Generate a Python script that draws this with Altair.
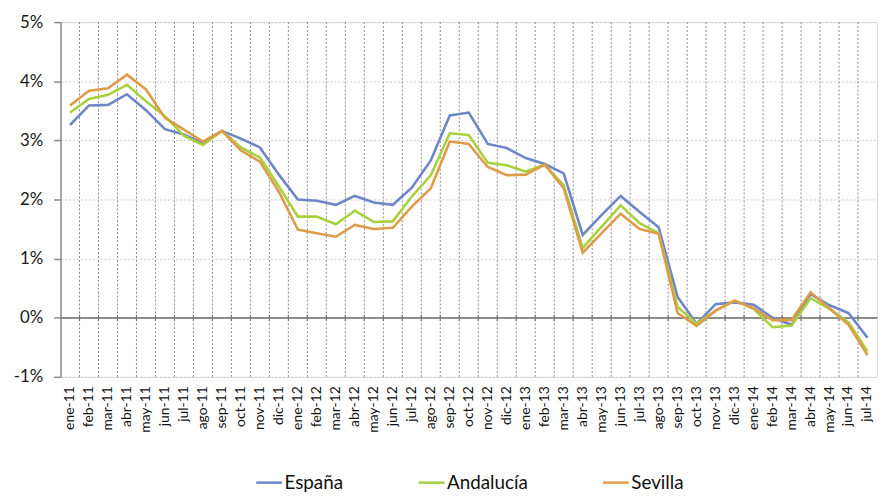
import altair as alt
import pandas as pd

meses = ["ene-11", "feb-11", "mar-11", "abr-11", "may-11", "jun-11", "jul-11", "ago-11",
         "sep-11", "oct-11", "nov-11", "dic-11",
         "ene-12", "feb-12", "mar-12", "abr-12", "may-12", "jun-12", "jul-12", "ago-12",
         "sep-12", "oct-12", "nov-12", "dic-12",
         "ene-13", "feb-13", "mar-13", "abr-13", "may-13", "jun-13", "jul-13", "ago-13",
         "sep-13", "oct-13", "nov-13", "dic-13",
         "ene-14", "feb-14", "mar-14", "abr-14", "may-14", "jun-14", "jul-14"]

espana = [3.26, 3.59, 3.60, 3.78, 3.51, 3.19, 3.10, 2.95, 3.16, 3.03, 2.88, 2.42,
          2.00, 1.98, 1.91, 2.06, 1.95, 1.91, 2.20, 2.66, 3.42, 3.47, 2.94, 2.87,
          2.70, 2.60, 2.44, 1.40, 1.74, 2.06, 1.79, 1.53, 0.35, -0.10, 0.23, 0.26,
          0.22, 0.00, -0.12, 0.40, 0.21, 0.08, -0.34]

andalucia = [3.47, 3.70, 3.77, 3.94, 3.66, 3.41, 3.08, 2.92, 3.16, 2.88, 2.71, 2.22,
             1.71, 1.71, 1.58, 1.81, 1.62, 1.63, 2.05, 2.41, 3.12, 3.09, 2.62, 2.58,
             2.47, 2.59, 2.24, 1.18, 1.54, 1.90, 1.60, 1.43, 0.18, -0.10, 0.12, 0.29,
             0.15, -0.16, -0.13, 0.33, 0.15, -0.08, -0.57]

sevilla = [3.59, 3.84, 3.88, 4.11, 3.86, 3.38, 3.18, 2.98, 3.16, 2.83, 2.64, 2.13,
           1.49, 1.43, 1.37, 1.57, 1.50, 1.52, 1.88, 2.19, 2.98, 2.94, 2.55, 2.41,
           2.42, 2.59, 2.19, 1.10, 1.43, 1.76, 1.50, 1.42, 0.08, -0.14, 0.12, 0.29,
           0.16, -0.04, -0.04, 0.43, 0.16, -0.12, -0.63]

series = ["España", "Andalucía", "Sevilla"]
colores = ["#6C86C8", "#A8D13E", "#DE9C48"]
y_ticks = [-1, 0, 1, 2, 3, 4, 5]

rows = []
for nombre, vals in zip(series, [espana, andalucia, sevilla]):
    for m, v in zip(meses, vals):
        rows.append({"mes": m, "serie": nombre, "valor": v})
df = pd.DataFrame(rows)
bounds = pd.DataFrame({"mes": meses[1:]})

FONT = "Lato"

x_enc = alt.X("mes:N", sort=meses,
              scale=alt.Scale(domain=meses, paddingInner=0, paddingOuter=0),
              axis=alt.Axis(title=None, labelAngle=-90, labelFontSize=14, labelFont=FONT,
                            labelColor="#111111", labelPadding=9, ticks=False,
                            domain=False, grid=False))
y_scale = alt.Scale(domain=[-1, 5], nice=False)

grid_v = alt.Chart(bounds).mark_rule(color="#8a8a8a", strokeWidth=1, strokeDash=[2, 2]).encode(
    x=alt.X("mes:N", sort=meses, bandPosition=0,
            scale=alt.Scale(domain=meses, paddingInner=0, paddingOuter=0))
)

zero = alt.Chart(bounds).mark_rule(color="#8c8c8c", strokeWidth=1.5).encode(
    y=alt.datum(0, scale=y_scale)
)

zero_ticks = alt.Chart(bounds).mark_rule(color="#777777", strokeWidth=1.2,
                                         yOffset=-3, y2Offset=3).encode(
    x=alt.X("mes:N", sort=meses, bandPosition=0,
            scale=alt.Scale(domain=meses, paddingInner=0, paddingOuter=0)),
    y=alt.datum(0),
    y2=alt.datum(0),
)

lines = alt.Chart(df).mark_line(strokeWidth=2.6).encode(
    x=x_enc,
    y=alt.Y("valor:Q", scale=y_scale,
            axis=alt.Axis(title=None, values=y_ticks, labelExpr="datum.value + '%'",
                          labelFontSize=17, labelFont=FONT, labelColor="#1a1a1a",
                          labelPadding=11, tickSize=7, tickColor="#8c8c8c", tickWidth=1.5,
                          domainColor="#8c8c8c", domainWidth=1.5,
                          grid=True, gridColor="#cccccc", gridDash=[2, 2], gridWidth=1)),
    color=alt.Color("serie:N", sort=series,
                    scale=alt.Scale(domain=series, range=colores),
                    legend=alt.Legend(title=None, orient="none", direction="horizontal",
                                      legendX=196, legendY=450,
                                      symbolType="stroke", symbolSize=676,
                                      symbolStrokeWidth=2.5, labelFontSize=19,
                                      labelFont=FONT, labelColor="#111111",
                                      labelOffset=1, columnPadding=70)),
    order=alt.value(0),
)

chart = alt.layer(grid_v, zero, zero_ticks, lines).properties(
    width=824, height=358,
    padding={"left": 53, "top": 12, "right": 2, "bottom": 118},
    autosize=alt.AutoSizeParams(type="none"),
).configure_view(stroke=None).configure(background="white")

chart.save("out.html", embed_options={"renderer": "svg", "actions": False})
